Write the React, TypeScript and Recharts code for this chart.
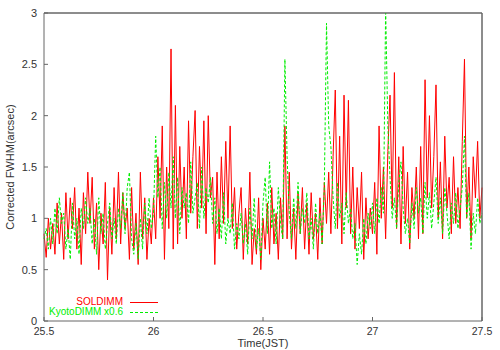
import { LineChart, Line, XAxis, YAxis, ReferenceLine } from 'recharts';

// samples every 0.01 h from 25.5 to 27.5 (JST)
const startTime = 25.5;
const stepTime = 0.01;

const solDimm = [
  0.85, 0.62, 1.0, 0.7, 0.95, 0.65, 1.15, 0.75, 1.05, 0.6,
  1.25, 0.8, 1.2, 0.9, 1.3, 0.7, 1.1, 0.55, 1.25, 0.85,
  1.45, 0.95, 1.4, 0.7, 1.15, 0.5, 1.05, 0.75, 1.35, 0.4,
  1.1, 0.65, 1.3, 0.8, 1.45, 0.75, 1.25, 0.9, 1.1, 0.6,
  1.3, 0.7, 1.05, 0.55, 1.45, 0.8, 1.2, 0.6, 1.0, 0.75,
  1.2, 0.8, 1.6, 1.0, 1.9, 0.6, 1.5, 0.9, 2.65, 0.7,
  2.1, 0.75, 1.7, 1.0, 1.5, 0.8, 1.95, 1.05, 1.6, 2.05,
  0.9, 1.7, 1.1, 1.95, 0.85, 2.0, 1.2, 1.4, 0.55, 1.45,
  0.8, 1.6, 0.95, 1.75, 1.0, 1.9, 0.9, 1.3, 0.7, 1.05,
  1.3, 0.6, 1.1, 0.75, 1.45, 0.55, 0.9, 0.65, 1.2, 0.5,
  1.0, 0.7, 1.15, 0.65, 1.3, 0.75, 1.05, 0.6, 1.2, 0.8,
  1.9, 0.8, 1.45, 0.7, 1.1, 0.6, 1.25, 0.85, 1.3, 0.7,
  1.15, 0.65, 1.25, 0.8, 1.05, 0.6, 1.2, 0.75, 1.35, 0.95,
  1.45, 0.85, 1.6, 2.25, 0.9, 1.8, 0.75, 2.2, 1.1, 2.15,
  0.85, 1.5, 0.7, 1.3, 0.9, 1.45, 0.6, 1.2, 0.8, 1.1,
  0.85, 1.35, 0.65, 1.9, 1.0, 1.5, 0.8, 1.65, 2.2, 1.1,
  2.42, 0.9, 1.6, 0.75, 1.7, 0.95, 1.45, 0.7, 1.3, 1.0,
  1.5, 0.8, 1.7, 0.85, 2.35, 1.2, 2.0, 1.1, 1.6, 2.3,
  1.0, 1.55, 0.8, 1.8, 1.1, 1.4, 0.85, 1.6, 0.95, 1.3,
  0.9, 1.75, 2.55, 1.0, 1.5, 0.8, 1.6, 1.2, 1.75, 1.0,
  1.3,
];

const kyotoDimm = [
  0.8, 0.9, 0.7, 1.0, 0.75, 1.1, 0.85, 1.2, 0.95, 1.05,
  0.7, 0.9, 0.6, 1.15, 0.8, 1.0, 0.65, 1.1, 0.9, 1.2,
  0.95, 1.1, 0.75, 1.0, 0.65, 1.2, 0.85, 1.05, 0.7, 0.95,
  1.15, 0.8, 1.0, 0.75, 1.1, 0.9, 1.25, 0.85, 1.3, 1.45,
  0.8, 0.65, 0.95, 0.6, 1.0, 0.7, 1.15, 0.85, 1.2, 0.9,
  1.05, 1.8, 1.2, 1.5, 0.9, 1.35, 1.0, 1.45, 1.1, 1.6,
  1.0, 1.4, 0.85, 1.3, 1.1, 1.25, 0.95, 1.55, 1.05, 1.2,
  1.35, 0.9, 1.5, 1.0, 1.3, 1.15, 1.4, 0.95, 1.2, 0.85,
  1.1, 0.8, 1.25, 0.75, 1.0, 0.85, 1.15, 0.7, 0.95, 0.8,
  1.05, 0.75, 0.95, 0.65, 1.1, 0.8, 1.2, 0.7, 0.9, 0.6,
  1.15, 1.4, 0.85, 1.55, 0.9, 1.1, 0.75, 1.3, 0.95, 0.8,
  2.55, 1.6, 1.05, 0.8, 1.2, 0.9, 1.35, 0.85, 1.1, 0.95,
  1.25, 0.8, 1.0, 0.7, 1.15, 0.85, 1.05, 0.75, 1.3, 2.9,
  1.9, 1.7, 1.2, 0.9, 1.35, 1.0, 1.15, 0.85, 1.25, 0.95,
  1.1, 0.8, 0.95, 0.55, 0.85, 0.65, 1.0, 0.75, 1.05, 0.9,
  1.15, 0.85, 1.2, 0.95, 1.3, 1.05, 3.05, 1.9, 1.4, 1.0,
  1.2, 0.9, 1.35, 1.55, 1.1, 0.85, 1.0, 0.75, 1.15, 0.9,
  1.3, 1.05, 1.2, 0.85, 1.35, 1.0, 1.25, 0.9, 1.15, 1.4,
  0.95, 1.2, 0.85, 1.3, 1.05, 0.8, 1.15, 0.95, 1.25, 0.9,
  1.1, 1.3, 1.8, 1.0, 1.25, 0.7, 1.05, 0.85, 1.2, 0.95,
  1.05,
];

const xTicks = [25.5, 26, 26.5, 27, 27.5];
const yTicks = [0, 0.5, 1, 1.5, 2, 2.5, 3];

const data = solDimm.map((v, i) => ({
  time: +(startTime + i * stepTime).toFixed(2),
  sol: v,
  kyoto: kyotoDimm[i],
}));

const FONT = 'Liberation Sans, Arial, sans-serif';
const AXIS = '#666';
const RED = '#ff0000';
const GREEN = '#00ee00';
const DASH = '3 2';

const legendRow = { display: 'flex', alignItems: 'center', height: 10 } as const;
const legendText = { width: 93, textAlign: 'right' } as const;

export default function App() {
  const tickStyle = { fontFamily: FONT, fontSize: 11, fill: '#333' };
  return (
    <div style={{ position: 'fixed', left: 0, top: 0, width: 500, height: 350, background: '#fff' }}>
      <LineChart width={500} height={350} data={data} margin={{ top: 12, right: 17, bottom: 0, left: 0 }}>
        <XAxis
          xAxisId="b"
          dataKey="time"
          type="number"
          domain={[25.5, 27.5]}
          ticks={xTicks}
          height={29}
          stroke={AXIS}
          tickSize={-4}
          tickMargin={11}
          tick={{ ...tickStyle, fontSize: 10.5 }}
          label={{ value: 'Time(JST)', position: 'insideBottom', offset: 3, style: { fontFamily: FONT, fontSize: 11, fill: '#333' } }}
        />
        <XAxis
          xAxisId="t"
          dataKey="time"
          type="number"
          orientation="top"
          domain={[25.5, 27.5]}
          ticks={xTicks}
          height={1}
          stroke={AXIS}
          tickSize={-4}
          tick={false}
        />
        <YAxis
          yAxisId="l"
          domain={[0, 3]}
          ticks={yTicks}
          allowDataOverflow
          width={44}
          stroke={AXIS}
          tickSize={-4}
          tickMargin={11}
          tick={tickStyle}
          label={{ value: 'Corrected FWHM(arcsec)', angle: -90, position: 'insideLeft', offset: 10, style: { fontFamily: FONT, fontSize: 11, fill: '#333', textAnchor: 'middle' } }}
        />
        <YAxis
          yAxisId="r"
          orientation="right"
          domain={[0, 3]}
          ticks={yTicks}
          allowDataOverflow
          width={1}
          stroke={AXIS}
          tickSize={-4}
          tick={false}
        />
        <ReferenceLine xAxisId="b" yAxisId="l" y={3} stroke={AXIS} />
        <ReferenceLine xAxisId="b" yAxisId="l" x={27.5} stroke={AXIS} />
        <Line
          xAxisId="b"
          yAxisId="l"
          dataKey="sol"
          name="SOLDIMM"
          stroke={RED}
          strokeWidth={1}
          dot={false}
          type="linear"
          isAnimationActive={false}
        />
        <Line
          xAxisId="b"
          yAxisId="l"
          dataKey="kyoto"
          name="KyotoDIMM x0.6"
          stroke={GREEN}
          strokeWidth={1}
          strokeDasharray={DASH}
          dot={false}
          type="linear"
          isAnimationActive={false}
        />
      </LineChart>
      <div style={{ position: 'absolute', left: 30, top: 297, fontFamily: FONT, fontSize: 10, lineHeight: '10px' }}>
        <div style={legendRow}>
          <span style={{ ...legendText, color: RED }}>SOLDIMM</span>
          <svg width={36} height={9} style={{ marginLeft: 5 }}>
            <line x1={2} x2={30} y1={4.5} y2={4.5} stroke={RED} />
          </svg>
        </div>
        <div style={legendRow}>
          <span style={{ ...legendText, color: GREEN }}>KyotoDIMM x0.6</span>
          <svg width={36} height={9} style={{ marginLeft: 5 }}>
            <line x1={2} x2={30} y1={4.5} y2={4.5} stroke={GREEN} strokeDasharray={DASH} />
          </svg>
        </div>
      </div>
    </div>
  );
}
